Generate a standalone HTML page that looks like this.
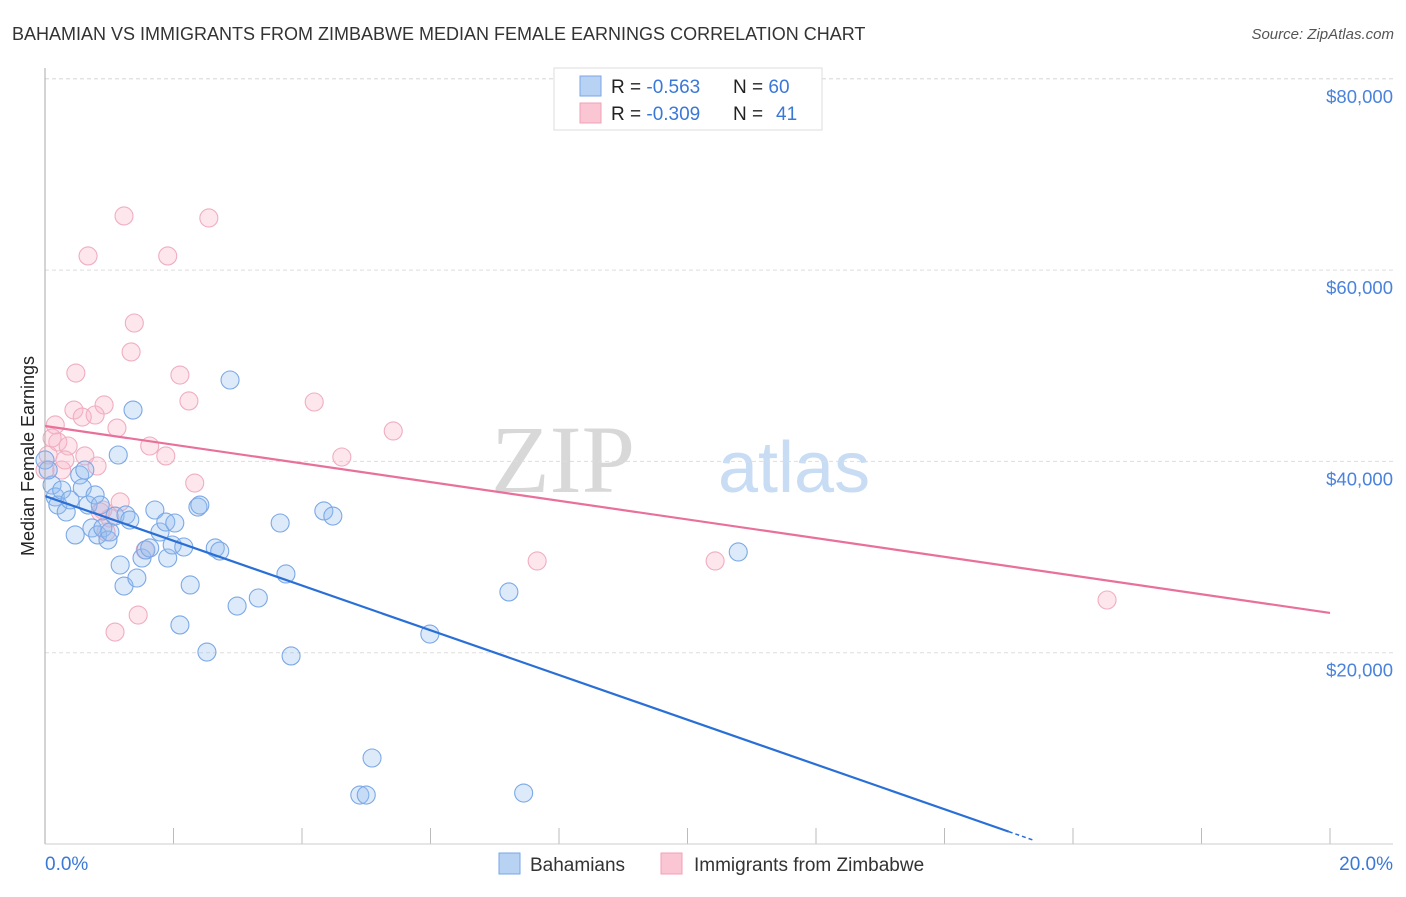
<!DOCTYPE html>
<html><head><meta charset="utf-8"><style>
body{margin:0;background:#fff;font-family:"Liberation Sans",sans-serif}
svg text{font-family:"Liberation Sans",sans-serif}
</style></head><body>
<svg id="chart" width="1406" height="892">
<text x="12" y="40" font-size="18" fill="#333">BAHAMIAN VS IMMIGRANTS FROM ZIMBABWE MEDIAN FEMALE EARNINGS CORRELATION CHART</text>
<text x="1394" y="39" font-size="15" fill="#555" font-style="italic" text-anchor="end">Source: ZipAtlas.com</text>
<text x="635" y="492" font-size="96" fill="#d8d8d8" text-anchor="end" font-family="Liberation Serif" style="font-family:'Liberation Serif',serif">ZIP</text>
<text x="718" y="492" font-size="72" fill="#c8dcf4">atlas</text>
<g id="grid"></g>
<g id="marks"></g>
<line x1="45" y1="68" x2="45" y2="844" stroke="#aaa"/>
<line x1="45" y1="844" x2="1393" y2="844" stroke="#ccc"/>
<text transform="translate(34,456) rotate(-90)" font-size="18" fill="#222" text-anchor="middle">Median Female Earnings</text>
<text x="45" y="870" font-size="19" fill="#3a78d8">0.0%</text>
<text x="1393" y="870" font-size="19" fill="#3a78d8" text-anchor="end">20.0%</text>
<g>
<rect x="554" y="68" width="268" height="62" fill="#fff" stroke="#ddd"/>
<rect x="580" y="76" width="21" height="20" fill="#b8d2f4" stroke="#7aa6e6"/>
<rect x="580" y="103" width="21" height="20" fill="#fac6d4" stroke="#f0a2b8"/>
<text x="611" y="93" font-size="19" fill="#222">R = <tspan fill="#3a78d8">-0.563</tspan><tspan x="733">N = </tspan><tspan fill="#3a78d8">60</tspan></text>
<text x="611" y="120" font-size="19" fill="#222">R = <tspan fill="#3a78d8">-0.309</tspan><tspan x="733">N = </tspan><tspan fill="#3a78d8" x="776">41</tspan></text>
</g>
<g>
<rect x="499" y="853" width="21" height="21" fill="#b8d2f4" stroke="#7aa6e6"/>
<text x="530" y="871" font-size="19" fill="#333">Bahamians</text>
<rect x="661" y="853" width="21" height="21" fill="#fac6d4" stroke="#f0a2b8"/>
<text x="694" y="871" font-size="19" fill="#333">Immigrants from Zimbabwe</text>
</g>
</svg>
<script>
const yTicks=[20000,40000,60000,80000];
const yTickLabels=["$20,000","$40,000","$60,000","$80,000"];
const xTicks=[0,2,4,6,8,10,12,14,16,18,20];
const blueX=[0.11,0.16,0.2,0.26,0.33,0.39,0.47,0.54,0.62,0.58,0.67,0.73,0.78,0.82,0.86,0.9,0.98,1.01,1.09,1.14,1.17,1.23,1.26,1.32,1.37,1.43,1.51,1.57,1.63,1.71,1.79,1.88,1.91,1.98,2.02,2.1,2.16,2.26,2.38,2.41,2.52,2.65,2.72,2.88,2.99,3.32,3.66,3.75,3.83,4.34,4.48,4.9,5.0,5.09,5.99,7.22,7.45,10.79,0.0,0.05];
const blueY=[37530,36280,35440,37010,34710,35970,32310,38580,39100,37220,35440,33040,36490,32310,35440,33040,31780,32620,34290,40670,29170,26970,34400,33870,45370,27810,29900,30740,30950,34920,32620,33660,29900,31260,33560,22900,31050,27080,35230,35440,20070,30950,30630,48510,24880,25720,33560,28230,19660,34820,34290,5120,5120,8990,21950,26350,5330,30530,40150,39100];
const pinkX=[1.23,2.55,0.67,1.91,1.39,1.34,0.48,2.1,2.24,4.19,0.45,0.92,0.58,0.78,1.12,5.42,0.16,0.2,0.36,1.63,1.88,4.62,0.81,0.26,0.05,0.62,1.17,0.9,1.01,2.33,0.95,1.56,7.66,10.43,16.53,1.45,1.09,0.11,0.31,0.86,0.0];
const pinkY=[65660,65450,61480,61480,54470,51440,49240,49030,46320,46210,45370,45900,44640,44850,43490,43180,43810,42030,41610,41610,40570,40460,39520,39100,40670,40570,35760,34920,34080,37740,32620,30740,29590,29590,25510,23940,22160,42450,40150,34710,39100];
const blueTrend=[36380,-2339];
const blueTrendEnd=15.0;
const pinkTrend=[43700,-977];
const NS="http://www.w3.org/2000/svg";
function xs(v){return 45+v*(1285/20);}
function ys(v){return 844-v*(191.3/20000);}
function mk(tag,attrs,parent){const e=document.createElementNS(NS,tag);for(const k in attrs)e.setAttribute(k,attrs[k]);parent.appendChild(e);return e;}
const grid=document.getElementById('grid'),marks=document.getElementById('marks');
const g80=mk('line',{x1:45,x2:1393,y1:ys(80000),y2:ys(80000),stroke:'#ddd','stroke-dasharray':'4,3'},grid);


yTicks.forEach((t,i)=>{
 const l=mk('line',{x1:45,x2:1393,y1:ys(t),y2:ys(t),stroke:'#ddd','stroke-dasharray':'4,3'},grid);
 
 
 const tx=mk('text',{x:1393,y:ys(t)+24,'font-size':18.5,fill:'#4a82dc','text-anchor':'end'},grid);
 tx.textContent=yTickLabels[i];
 
 
});
xTicks.forEach(t=>{
 const l=mk('line',{x1:xs(t),x2:xs(t),y1:828,y2:844,stroke:'#bbb'},grid);
 
 
});
function pts(X,Y,fill,stroke,name){
 X.forEach((x,i)=>{
  const c=mk('circle',{cx:xs(x),cy:ys(Y[i]),r:9,fill:fill,stroke:stroke,'stroke-width':1.1},marks);
  
  
 });
}
pts(pinkX,pinkY,'rgba(248,180,200,0.32)','#f0adc0','zimbabwe-point');
pts(blueX,blueY,'rgba(150,190,240,0.32)','#7ba8e6','bahamian-point');
const bl=mk('line',{x1:xs(0),y1:ys(blueTrend[0]),x2:xs(blueTrendEnd),y2:ys(blueTrend[0]+blueTrend[1]*blueTrendEnd),stroke:'#2a6fd6','stroke-width':2.2},marks);


const bd=mk('line',{x1:xs(blueTrendEnd),y1:ys(blueTrend[0]+blueTrend[1]*blueTrendEnd),x2:xs(15.4),y2:ys(blueTrend[0]+blueTrend[1]*15.4),stroke:'#2a6fd6','stroke-width':1.5,'stroke-dasharray':'4,3'},marks);


const pl=mk('line',{x1:xs(0),y1:ys(pinkTrend[0]),x2:xs(20),y2:ys(pinkTrend[0]+pinkTrend[1]*20),stroke:'#e8709a','stroke-width':2.2},marks);


</script>
</body></html>
